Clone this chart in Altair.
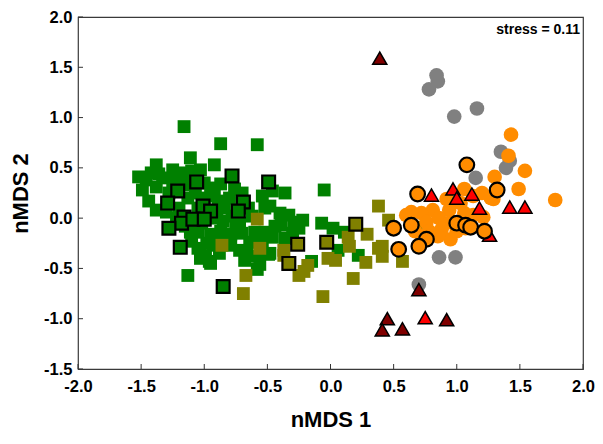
import altair as alt
import pandas as pd

# ---- data (nMDS coordinates) ----
green_x = [-1.16, -0.87, -0.58, -1.11, -0.92, -1.25, -1.38, -1.42, -1.52, -1.36, -1.38, -1.49, -1.44, -1.38,
           -1.10, -1.03, -1.15, -0.87, -0.76, -0.80, -0.89, -0.84, -1.13, -1.07, -1.20, -1.30, -1.05, -1.11,
           -1.10, -0.95, -0.87, -0.79, -0.93, -0.99, -0.95, -1.13, -1.03, -0.54, -0.52, -0.46, -0.60, -0.52,
           -0.64, -0.54, -0.58, -0.56, -0.49, -0.66, -0.36, -0.05, -0.48, -0.33, -0.29, -0.25, -0.44, -0.39,
           -0.56, -0.46, -0.48, -0.58, -0.07, 0.02, 0.11, -0.15, 0.06, 0.22, -0.81, -0.79, -1.03, -0.96,
           -1.25, -1.00, -0.95, -0.92, -1.00, -1.05, -0.95, -0.90, -0.85, -0.78, -0.72, -0.70, -0.65, -0.62,
           -0.70, -0.75, -1.15, -1.22, -1.02, -0.98, -0.88, -0.85, -0.72, -0.68, -1.05, -1.15, -1.28, -1.46,
           -1.33, -0.40, -0.30, -0.36, -0.22]
green_y = [0.91, 0.74, 0.73, 0.60, 0.53, 0.48, 0.53, 0.45, 0.41, 0.44, 0.31, 0.28, 0.17, 0.08,
           0.47, 0.48, 0.33, 0.34, 0.29, 0.20, 0.17, 0.10, 0.20, 0.25, 0.10, 0.06, -0.14, -0.14,
           -0.23, -0.16, -0.13, -0.16, -0.27, -0.38, -0.45, -0.57, -0.37, 0.22, 0.10, 0.27, -0.14, -0.14,
           -0.24, -0.27, -0.38, -0.46, -0.36, -0.33, 0.25, 0.28, 0.12, 0.03, -0.04, -0.10, -0.08, -0.07,
           -0.21, -0.19, -0.35, -0.51, -0.05, -0.10, -0.14, -0.43, -0.32, -0.37, -0.16, -0.27, -0.40, -0.43,
           0.36, 0.35, 0.30, 0.22, 0.20, 0.10, 0.00, 0.05, -0.03, 0.02, -0.05, 0.25, 0.10, 0.02,
           -0.15, -0.08, -0.08, 0.00, -0.05, -0.25, -0.35, -0.22, -0.32, -0.42, -0.30, 0.45, 0.25, 0.38,
           0.40, 0.05, -0.15, -0.20, -0.02]

green_ring_x = [-1.06, -1.21, -1.29, -1.01, -0.95, -1.16, -1.18, -1.09, -1.00, -1.28, -1.19, -0.85,
                -0.78, -0.49, -0.69, -0.73]
green_ring_y = [0.36, 0.27, 0.15, 0.12, 0.07, 0.01, -0.05, -0.01, -0.01, -0.10, -0.29, -0.68,
                0.42, 0.36, 0.16, 0.07]

olive_x = [-0.58, -0.86, -0.56, -0.67, -0.69, -0.37, -0.37, -0.25, -0.18, -0.21, -0.02, 0.04, -0.06,
           0.14, 0.15, 0.29, 0.28, 0.18, 0.38, 0.38, 0.46, 0.41, 0.41, 0.57, 0.68]
olive_y = [-0.01, -0.27, -0.30, -0.57, -0.75, -0.32, -0.37, -0.57, -0.47, -0.53, -0.40, -0.42, -0.78,
           -0.19, -0.28, -0.16, -0.44, -0.60, 0.12, -0.30, -0.02, -0.28, -0.38, -0.43, -0.09]

olive_ring_x = [-0.26, -0.33, -0.03, 0.20]
olive_ring_y = [-0.26, -0.45, -0.24, -0.06]

gray_x = [0.84, 0.85, 0.78, 0.98, 1.16, 1.35, 1.42, 1.39, 1.15, 0.86, 0.99, 0.70]
gray_y = [1.42, 1.36, 1.28, 1.01, 1.09, 0.66, 0.57, 0.50, 0.40, -0.39, -0.39, -0.66]

orange_x = [1.43, 1.41, 1.54, 1.30, 1.49, 1.78, 1.29, 1.20, 1.06, 1.13, 0.92, 1.03, 0.94, 0.81, 0.72,
            0.64, 0.60, 0.76, 0.86, 0.95, 1.06, 1.13, 1.21, 0.88, 0.95, 0.85, 0.67, 0.78, 1.00, 1.07, 1.27]
orange_y = [0.83, 0.62, 0.47, 0.41, 0.29, 0.18, 0.19, 0.25, 0.29, 0.22, 0.19, 0.15, 0.08, 0.08, 0.05,
            0.06, 0.03, -0.04, 0.00, -0.04, 0.05, 0.03, 0.01, -0.11, -0.21, -0.18, -0.13, -0.13, -0.13, -0.10, 0.20]

orange_ring_x = [1.08, 1.32, 0.69, 0.50, 0.64, 1.00, 1.07, 1.11, 1.22, 0.76, 0.70, 0.54]
orange_ring_y = [0.53, 0.28, 0.24, -0.10, -0.07, -0.05, -0.07, -0.09, -0.13, -0.21, -0.28, -0.31]

red_x = [0.80, 0.97, 1.00, 1.12, 1.18, 1.42, 1.54, 1.26, 0.75]
red_y = [0.23, 0.29, 0.20, 0.24, 0.10, 0.11, 0.11, -0.17, -0.99]

darkred_x = [0.39, 0.70, 0.45, 0.41, 0.57, 0.92]
darkred_y = [1.59, -0.71, -1.00, -1.11, -1.10, -1.01]

x_ticks = [-2.0, -1.5, -1.0, -0.5, 0.0, 0.5, 1.0, 1.5, 2.0]
y_ticks = [-1.5, -1.0, -0.5, 0.0, 0.5, 1.0, 1.5, 2.0]
stress_label = "stress = 0.11"

W, H = 505, 352
FONT = "Liberation Sans"
LBL = "datum.value < 0 ? '-' + format(-datum.value, '.1f') : format(datum.value, '.1f')"

xs = alt.Scale(domain=[-2, 2], nice=False, zero=False)
ys = alt.Scale(domain=[-1.5, 2], nice=False, zero=False)

x_axis = alt.Axis(values=x_ticks, labelExpr=LBL, title="nMDS 1", domain=False, ticks=False, grid=False,
                  labelFont=FONT, labelFontSize=16.5, labelFontWeight="bold", labelColor="black",
                  labelPadding=9, titleFont=FONT, titleFontSize=22, titleFontWeight="bold",
                  titleColor="black", titlePadding=15, labelFlush=False)
y_axis = alt.Axis(values=y_ticks, labelExpr=LBL, title="nMDS 2", domain=False, ticks=False, grid=False,
                  labelFont=FONT, labelFontSize=16.5, labelFontWeight="bold", labelColor="black",
                  labelPadding=6, titleFont=FONT, titleFontSize=22, titleFontWeight="bold",
                  titleColor="black", titleX=-46, titleY=H / 2, labelFlush=False)

X = lambda f: alt.X(f, scale=xs, axis=x_axis)
Y = lambda f: alt.Y(f, scale=ys, axis=y_axis)


def pts(xv, yv, shape, size, fill, stroke=None, sw=0.0):
    df = pd.DataFrame({"x": xv, "y": yv})
    kw = dict(shape=shape, size=size, filled=True, fill=fill, opacity=1, fillOpacity=1)
    if stroke:
        kw.update(stroke=stroke, strokeWidth=sw, strokeOpacity=1)
    else:
        kw.update(strokeWidth=0)
    return alt.Chart(df).mark_point(**kw).encode(x=X("x:Q"), y=Y("y:Q"))


SQ, CI, TR = 165, 215, 200
layers = [
    pts(green_x, green_y, "square", SQ, "#008000"),
    pts(olive_x, olive_y, "square", SQ, "#808000"),
    pts(green_ring_x, green_ring_y, "square", SQ, "#008000", "black", 2.2),
    pts(olive_ring_x, olive_ring_y, "square", SQ, "#808000", "black", 2.2),
    pts(gray_x, gray_y, "circle", CI, "#808080"),
    pts(orange_x, orange_y, "circle", CI, "#FF8C00"),
    pts(darkred_x, darkred_y, "triangle-up", TR, "#800000", "black", 1.5),
    pts(red_x, red_y, "triangle-up", TR, "#FF0000", "black", 1.5),
    pts(orange_ring_x, orange_ring_y, "circle", CI, "#FF8C00", "black", 2.2),
]

xt = alt.Chart(pd.DataFrame({"x": x_ticks})).mark_rule(color="#333333", strokeWidth=1).encode(
    x=X("x:Q"), y=alt.value(H), y2=alt.value(H - 5))
yt = alt.Chart(pd.DataFrame({"y": y_ticks})).mark_rule(color="#333333", strokeWidth=1).encode(
    y=Y("y:Q"), x=alt.value(0), x2=alt.value(5))
stress = alt.Chart(pd.DataFrame({"t": [stress_label]})).mark_text(
    font=FONT, fontSize=14, fontWeight="bold", align="right", baseline="alphabetic", color="black"
).encode(text="t:N", x=alt.value(W - 3), y=alt.value(17))

chart = alt.layer(*layers, xt, yt, stress).properties(
    width=W, height=H,
    autosize=alt.AutoSizeParams(type="none"),
    padding={"left": 70, "top": 9, "right": 12, "bottom": 63},
    background="white",
).configure_view(stroke="#3a3a3a", strokeWidth=1.2)

chart.save("out.html", embed_options={"renderer": "svg", "actions": False})
